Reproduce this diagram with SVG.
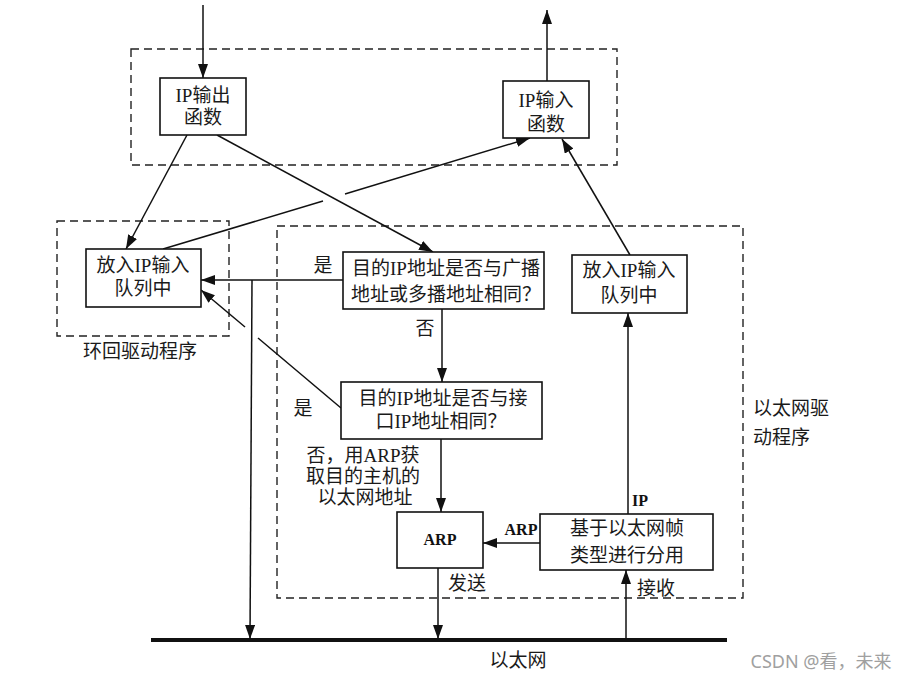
<svg xmlns="http://www.w3.org/2000/svg" width="913" height="680" viewBox="0 0 913 680">
<defs>
<marker id="ah" markerUnits="userSpaceOnUse" markerWidth="15" markerHeight="11" refX="14" refY="5" orient="auto">
<path d="M0,0 L14,5 L0,10 z" fill="#111"/>
</marker>
<style>
.box{fill:#fff;stroke:#111;stroke-width:1.6}
.dash{fill:none;stroke:#222;stroke-width:1.4;stroke-dasharray:8 5}
.t{font-family:"Liberation Serif","Noto Sans CJK SC",serif;font-size:19px;fill:#1a1a1a;text-anchor:middle}
.b{font-family:"Liberation Serif","Noto Sans CJK SC",serif;font-size:16px;font-weight:bold;fill:#111;text-anchor:middle}
.ln{fill:none;stroke:#111;stroke-width:1.5}
.la{fill:none;stroke:#111;stroke-width:1.5;marker-end:url(#ah)}
</style>
</defs>
<rect width="913" height="680" fill="#fff"/>

<g id="groups">
<rect class="dash" x="131" y="49" width="486" height="116"/>
<rect class="dash" x="57" y="221" width="172" height="115"/>
<rect class="dash" x="277" y="226" width="466" height="372"/>
</g>

<g id="connectors">
<line class="la" x1="203" y1="5" x2="203" y2="78"/>
<line class="la" x1="547" y1="81" x2="547" y2="10"/>
<line class="la" x1="187" y1="135" x2="126" y2="249"/>
<line class="la" x1="217" y1="135" x2="433" y2="252"/>
<line class="ln" x1="163" y1="249" x2="323" y2="201"/>
<line class="la" x1="345" y1="194" x2="530" y2="138"/>
<line class="la" x1="343" y1="280" x2="201" y2="280"/>
<line class="la" x1="252" y1="280" x2="250" y2="639"/>
<line class="ln" x1="341" y1="408" x2="258" y2="338"/>
<line class="la" x1="245" y1="327" x2="201" y2="290"/>
<line class="la" x1="442" y1="309" x2="442" y2="382"/>
<line class="la" x1="441" y1="439" x2="441" y2="512"/>
<line class="la" x1="438" y1="568" x2="438" y2="639"/>
<line class="la" x1="540" y1="543" x2="483" y2="543"/>
<line class="la" x1="628" y1="514" x2="628" y2="313"/>
<line class="la" x1="626" y1="639" x2="626" y2="570"/>
<line class="la" x1="630" y1="255" x2="562" y2="139"/>
<line x1="151" y1="640" x2="727" y2="640" stroke="#111" stroke-width="4"/>
</g>

<g id="ip-output">
<rect class="box" x="160" y="78" width="86" height="57"/>
<text class="t" x="203" y="102">IP输出</text>
<text class="t" x="203" y="124">函数</text>
</g>

<g id="ip-input">
<rect class="box" x="503" y="81" width="86" height="57"/>
<text class="t" x="546" y="107">IP输入</text>
<text class="t" x="546" y="131">函数</text>
</g>

<g id="loop-queue">
<rect class="box" x="86" y="249" width="115" height="58"/>
<text class="t" x="143" y="272">放入IP输入</text>
<text class="t" x="143" y="295">队列中</text>
</g>

<g id="broadcast">
<rect class="box" x="343" y="252" width="201" height="57"/>
<text class="t" x="446" y="275">目的IP地址是否与广播</text>
<text class="t" x="446" y="301">地址或多播地址相同？</text>
</g>

<g id="iface">
<rect class="box" x="341" y="382" width="201" height="57"/>
<text class="t" x="443" y="405">目的IP地址是否与接</text>
<text class="t" x="441" y="428">口IP地址相同？</text>
</g>

<g id="eth-queue">
<rect class="box" x="572" y="255" width="115" height="58"/>
<text class="t" x="629" y="277">放入IP输入</text>
<text class="t" x="629" y="302">队列中</text>
</g>

<g id="arp">
<rect class="box" x="397" y="512" width="86" height="56"/>
<text class="b" x="440" y="545">ARP</text>
</g>

<g id="demux">
<rect class="box" x="540" y="514" width="173" height="56"/>
<text class="t" x="627" y="535">基于以太网帧</text>
<text class="t" x="627" y="562">类型进行分用</text>
</g>

<g id="labels">
<text class="t" x="323" y="272">是</text>
<text class="t" x="425" y="335">否</text>
<text class="t" x="303" y="415">是</text>
<text class="t" x="363" y="462">否，用ARP获</text>
<text class="t" x="363" y="483">取目的主机的</text>
<text class="t" x="365" y="504">以太网地址</text>
<text class="b" x="521" y="535">ARP</text>
<text class="b" x="640" y="506">IP</text>
<text class="t" x="448" y="590" style="text-anchor:start">发送</text>
<text class="t" x="637" y="595" style="text-anchor:start">接收</text>
<text class="t" x="753" y="415" style="text-anchor:start">以太网驱</text>
<text class="t" x="753" y="444" style="text-anchor:start">动程序</text>
<text class="t" x="140" y="358">环回驱动程序</text>
<text class="t" x="518" y="667">以太网</text>
<text x="821" y="668" style="font-family:'Noto Sans','Noto Sans CJK SC',sans-serif;font-size:18px;fill:#a0a0a0;text-anchor:middle">CSDN @看，未来</text>
</g>
</svg>
